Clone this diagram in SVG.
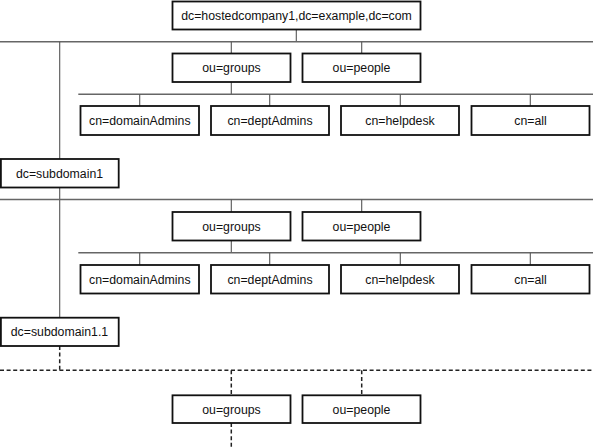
<svg xmlns="http://www.w3.org/2000/svg" width="593" height="448" viewBox="0 0 593 448">
<style>
.box{fill:#fff;stroke:#111;stroke-width:1.8}
.lbl{font-family:"Liberation Sans",Arial,Helvetica,sans-serif;font-size:12.3px;fill:#111;text-anchor:middle}
.ln{stroke:#555;stroke-width:1.1;fill:none}
.hl{stroke:#666;stroke-width:1.4;fill:none}
.ds{stroke:#222;stroke-width:1.5;fill:none;stroke-dasharray:4 2.6}
</style>
<g id="connectors">
<line class="ln" x1="296.3" y1="29.5" x2="296.3" y2="41.7"/>
<line class="hl" x1="0" y1="41.7" x2="593" y2="41.7"/>
<line class="ln" x1="231.3" y1="41.7" x2="231.3" y2="53.5"/>
<line class="ln" x1="361.7" y1="41.7" x2="361.7" y2="53.5"/>
<line class="ln" x1="231.3" y1="82" x2="231.3" y2="94.3"/>
<line class="hl" x1="78.3" y1="94.3" x2="593" y2="94.3"/>
<line class="ln" x1="139.7" y1="94.3" x2="139.7" y2="106"/>
<line class="ln" x1="269.7" y1="94.3" x2="269.7" y2="106"/>
<line class="ln" x1="400.3" y1="94.3" x2="400.3" y2="106"/>
<line class="ln" x1="530.3" y1="94.3" x2="530.3" y2="106"/>
<line class="ln" x1="59.7" y1="41.7" x2="59.7" y2="159"/>
<line class="ln" x1="59.7" y1="187.5" x2="59.7" y2="317.7"/>
<line class="hl" x1="0" y1="199.5" x2="593" y2="199.5"/>
<line class="ln" x1="231.3" y1="199.5" x2="231.3" y2="212"/>
<line class="ln" x1="361.7" y1="199.5" x2="361.7" y2="212"/>
<line class="ln" x1="231.3" y1="240.5" x2="231.3" y2="252.7"/>
<line class="hl" x1="78.3" y1="252.7" x2="593" y2="252.7"/>
<line class="ln" x1="139.7" y1="252.7" x2="139.7" y2="265"/>
<line class="ln" x1="269.7" y1="252.7" x2="269.7" y2="265"/>
<line class="ln" x1="400.3" y1="252.7" x2="400.3" y2="265"/>
<line class="ln" x1="530.3" y1="252.7" x2="530.3" y2="265"/>
<line class="ds" x1="59.7" y1="346" x2="59.7" y2="370.3"/>
<line class="ds" x1="0" y1="370.3" x2="593" y2="370.3"/>
<line class="ds" x1="231.3" y1="370.3" x2="231.3" y2="395.3"/>
<line class="ds" x1="361.7" y1="370.3" x2="361.7" y2="395.3"/>
<line class="ds" x1="231.3" y1="423" x2="231.3" y2="448"/>
</g>
<g id="root"><rect class="box" x="172.5" y="1.5" width="248" height="28"/><text class="lbl" x="296.5" y="19.8">dc=hostedcompany1,dc=example,dc=com</text></g>
<g id="groups1"><rect class="box" x="172.5" y="53.5" width="118" height="28.5"/><text class="lbl" x="231.5" y="72">ou=groups</text></g>
<g id="people1"><rect class="box" x="302.5" y="53.5" width="118" height="28.5"/><text class="lbl" x="361.5" y="72">ou=people</text></g>
<g id="domainAdmins1"><rect class="box" x="80.5" y="106" width="118.5" height="29"/><text class="lbl" x="139.8" y="124.8">cn=domainAdmins</text></g>
<g id="deptAdmins1"><rect class="box" x="211" y="106" width="118" height="29"/><text class="lbl" x="270" y="124.8">cn=deptAdmins</text></g>
<g id="helpdesk1"><rect class="box" x="341" y="106" width="118" height="29"/><text class="lbl" x="400" y="124.8">cn=helpdesk</text></g>
<g id="all1"><rect class="box" x="471.5" y="106" width="118" height="29"/><text class="lbl" x="530.5" y="124.8">cn=all</text></g>
<g id="subdomain1"><rect class="box" x="0.9" y="159" width="117.8" height="28.5"/><text class="lbl" x="59.5" y="177.6">dc=subdomain1</text></g>
<g id="groups2"><rect class="box" x="172.5" y="212" width="118" height="28.5"/><text class="lbl" x="231.5" y="230.6">ou=groups</text></g>
<g id="people2"><rect class="box" x="302.5" y="212" width="118" height="28.5"/><text class="lbl" x="361.5" y="230.6">ou=people</text></g>
<g id="domainAdmins2"><rect class="box" x="80.5" y="265" width="118.5" height="28.5"/><text class="lbl" x="139.8" y="283.6">cn=domainAdmins</text></g>
<g id="deptAdmins2"><rect class="box" x="211" y="265" width="118" height="28.5"/><text class="lbl" x="270" y="283.6">cn=deptAdmins</text></g>
<g id="helpdesk2"><rect class="box" x="341" y="265" width="118" height="28.5"/><text class="lbl" x="400" y="283.6">cn=helpdesk</text></g>
<g id="all2"><rect class="box" x="471.5" y="265" width="118" height="28.5"/><text class="lbl" x="530.5" y="283.6">cn=all</text></g>
<g id="subdomain1_1"><rect class="box" x="0.9" y="317.7" width="117.8" height="28.3"/><text class="lbl" x="59.5" y="336.2">dc=subdomain1.1</text></g>
<g id="groups3"><rect class="box" x="172.5" y="395.3" width="118" height="27.7"/><text class="lbl" x="231.5" y="413.5">ou=groups</text></g>
<g id="people3"><rect class="box" x="302.5" y="395.3" width="118" height="27.7"/><text class="lbl" x="361.5" y="413.5">ou=people</text></g>
</svg>
